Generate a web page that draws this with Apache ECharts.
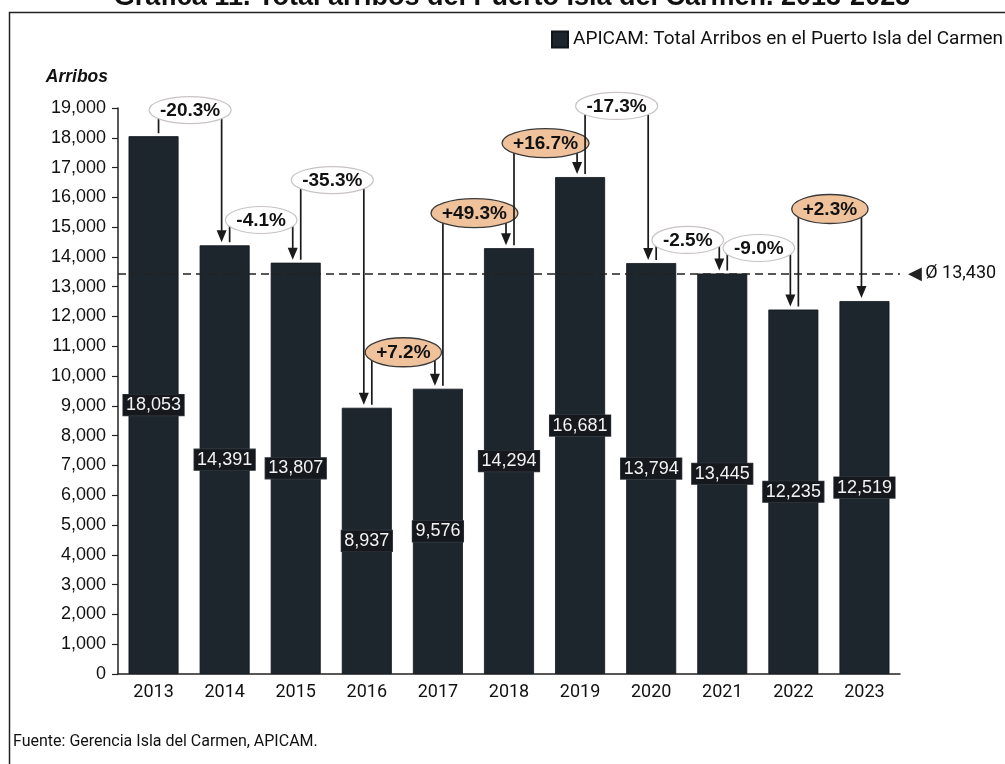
<!DOCTYPE html>
<html>
<head>
<meta charset="utf-8">
<script src="https://cdn.jsdelivr.net/npm/echarts@6/dist/echarts.min.js"></script>
<style>
html,body{margin:0;padding:0;background:#fff;}
#chart{width:1005px;height:764px;}
</style>
</head>
<body>
<div id="chart"></div>
<script>
// ---- data ----
const years = ['2013','2014','2015','2016','2017','2018','2019','2020','2021','2022','2023'];
const arribos = [18053, 14391, 13807, 8937, 9576, 14294, 16681, 13794, 13445, 12235, 12519];
const changeLabels = ['-20.3%','-4.1%','-35.3%','+7.2%','+49.3%','+16.7%','-17.3%','-2.5%','-9.0%','+2.3%'];
// level (in arribos) of each change bracket
const bracketLevels = [18930, 15240, 16580, 10800, 15470, 17820, 19070, 14570, 14300, 15610];
const average = 13430;
const yTicks = {min: 0, max: 19000, interval: 1000};

const FONT = '"Liberation Sans", Arial, sans-serif';
const FONT2 = 'Roboto, "Noto Sans", sans-serif';

const measureCtx = document.createElement('canvas').getContext('2d');
function textW(t, font) { measureCtx.font = font; return measureCtx.measureText(t).width; }

const pairData = changeLabels.map((lab, i) => [i, arribos[i], arribos[i + 1], bracketLevels[i]]);

const chart = echarts.init(document.getElementById('chart'), null, {renderer: 'canvas'});

function renderBracket(params, api) {
  const i = api.value(0);
  const p0 = api.coord([i, api.value(1)]);
  const p1 = api.coord([i + 1, api.value(2)]);
  const pt = api.coord([i, api.value(3)]);
  const xl = p0[0] + 5, xr = p1[0] - 3;
  const yTop = pt[1];
  const yL = p0[1] - 3;
  const yR = p1[1] - 3;
  const lab = changeLabels[i];
  const pos = lab.charAt(0) === '+';
  const font = 'bold 19px ' + FONT;
  const tw = textW(lab, font);
  const cx = (xl + xr) / 2;
  const rx = tw / 2 + 11, ry = pos ? 14.5 : 13.5;
  const lineStyle = {stroke: '#1a1a1a', lineWidth: 1.7, fill: null};
  return {
    type: 'group',
    children: [
      {type: 'polyline', shape: {points: [[xl, yL], [xl, yTop], [xr, yTop], [xr, yR - 9]]}, style: lineStyle},
      {type: 'polygon', shape: {points: [[xr - 5, yR - 12], [xr + 5, yR - 12], [xr, yR]]}, style: {fill: '#1a1a1a'}},
      {type: 'ellipse', shape: {cx: cx, cy: yTop, rx: rx, ry: ry},
        style: {fill: pos ? '#efc29b' : '#ffffff', stroke: pos ? '#3a3a3a' : '#c9c3c3', lineWidth: pos ? 1.3 : 1.2}},
      {type: 'text', x: cx, y: yTop + 0.5,
        style: {text: lab, font: font, fill: '#111', align: 'center', verticalAlign: 'middle'}}
    ]
  };
}

const option = {
  animation: false,
  backgroundColor: '#ffffff',
  grid: {left: 118, right: 105, top: 108, bottom: 90, containLabel: false},
  legend: {
    show: true, left: 551, top: 30, padding: 0, itemWidth: 16, itemHeight: 16, itemGap: 6,
    textStyle: {fontFamily: FONT2, fontSize: 19, color: '#111', padding: [0, 0, 0, 0]},
    data: [{name: 'APICAM: Total Arribos en el Puerto Isla del Carmen', icon: 'rect'}]
  },
  xAxis: {
    type: 'category', data: years,
    axisLine: {lineStyle: {color: '#222', width: 1.5}},
    axisTick: {show: false},
    axisLabel: {fontFamily: FONT2, fontSize: 18, color: '#111', margin: 9}
  },
  yAxis: {
    type: 'value', min: yTicks.min, max: yTicks.max, interval: yTicks.interval,
    name: 'Arribos', nameLocation: 'end', nameGap: 31,
    nameTextStyle: {fontFamily: FONT, fontSize: 17.5, fontWeight: 'bold', fontStyle: 'italic', color: '#111', align: 'right', verticalAlign: 'middle', padding: [0, 10, 0, 0]},
    axisLine: {show: true, lineStyle: {color: '#222', width: 1.5}},
    axisTick: {show: true, length: 6, lineStyle: {color: '#222', width: 1.2}},
    splitLine: {show: false},
    axisLabel: {fontFamily: FONT, fontSize: 18, color: '#111', margin: 12,
      formatter: v => v.toLocaleString('en-US')}
  },
  series: [
    {
      name: 'APICAM: Total Arribos en el Puerto Isla del Carmen',
      type: 'bar', data: arribos, barWidth: 50,
      itemStyle: {color: '#1d252d', borderColor: '#11161b', borderWidth: 0.8},
      label: {
        show: true, position: 'inside', formatter: p => p.value.toLocaleString('en-US'),
        fontFamily: FONT, fontSize: 18, color: '#f2f2f2',
        backgroundColor: '#15181c', borderColor: '#3a3f45', borderWidth: 0.6, padding: [2, 3, 1, 3]
      },
      markLine: {
        silent: true, symbol: ['none', 'none'],
        lineStyle: {color: '#222', type: [8, 5], width: 1.5},
        label: {
          show: true, position: 'end', distance: 8,
          formatter: '{t|◀} {v|Ø ' + average.toLocaleString('en-US') + '}',
          rich: {
            t: {fontSize: 18, color: '#222', fontFamily: 'DejaVu Sans'},
            v: {fontSize: 18, color: '#111', fontFamily: FONT2}
          }
        },
        data: [{yAxis: average}]
      },
      z: 2
    },
    {
      type: 'custom', data: pairData, renderItem: renderBracket,
      encode: {x: 0, y: 3}, z: 5, silent: true
    }
  ],
  graphic: [
    {type: 'rect', shape: {x: 9.5, y: 12.5, width: 1010, height: 770}, style: {fill: null, stroke: '#222', lineWidth: 1.5}, z: 100},
    {type: 'text', x: 512, y: -2, style: {text: 'Gráfica 11. Total arribos del Puerto Isla del Carmen. 2013-2023',
      font: 'bold 27px ' + FONT, fill: '#111', align: 'center', verticalAlign: 'middle'}},
    {type: 'text', x: 13, y: 742, style: {text: 'Fuente: Gerencia Isla del Carmen, APICAM.',
      font: '16px ' + FONT2, fill: '#111', align: 'left', verticalAlign: 'middle'}}
  ]
};
chart.setOption(option);
</script>
</body>
</html>
